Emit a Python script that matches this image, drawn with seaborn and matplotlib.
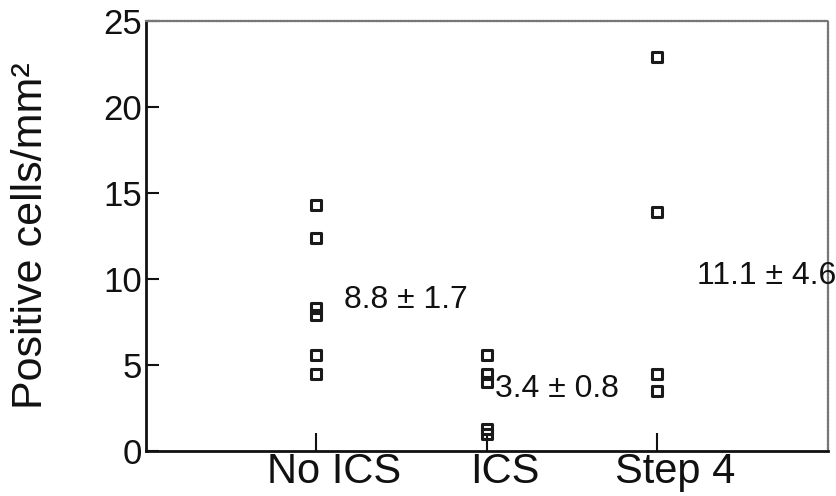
import matplotlib
matplotlib.use("Agg")
import matplotlib.pyplot as plt
import matplotlib.transforms as mtransforms
import seaborn as sns
import pandas as pd
from matplotlib import font_manager

# ---- data ----
categories = ["No ICS", "ICS", "Step 4"]
no_ics = [14.3, 12.4, 8.3, 7.9, 5.6, 4.5]
ics = [5.6, 4.5, 4.0, 1.3, 1.0]
step4 = [22.9, 13.9, 4.5, 3.5]
summary_labels = ["8.8 \u00b1 1.7", "3.4 \u00b1 0.8", "11.1 \u00b1 4.6"]
summary_y = [8.8, 3.6, 10.2]
y_ticks = [0, 5, 10, 15, 20, 25]
y_label = "Positive cells/mm\u00b2"

df = pd.DataFrame({
    "group": [categories[0]] * len(no_ics) + [categories[1]] * len(ics) + [categories[2]] * len(step4),
    "value": no_ics + ics + step4,
})

sns.set_theme(style="white")
plt.rcParams["font.family"] = ["Liberation Sans", "DejaVu Sans"]

tick_fam = ["Liberation Sans", "DejaVu Sans"]
xt_size, yt_size, ann_size = 30, 25, 23

fig = plt.figure(figsize=(8.37, 4.96), dpi=100)
ax = fig.add_axes([0.1744, 0.0907, 0.8146, 0.867])

sns.stripplot(data=df, x="group", y="value", order=categories, jitter=False,
              marker="s", s=7.2, color="#1a1a1a", facecolor="none",
              edgecolor="#1a1a1a", linewidth=2.2, ax=ax, zorder=3)

ax.set_xlim(-1, 3)
ax.set_ylim(0, 25)
ax.set_yticks(y_ticks)
ax.set_yticklabels([str(t) for t in y_ticks], family=tick_fam, fontsize=yt_size, color="#111")
ax.set_xticks(range(len(categories)))
ax.set_xticklabels(categories, family=tick_fam, fontsize=xt_size, color="#111")
ax.tick_params(axis="both", direction="in", length=10, width=1.5, color="#111",
               bottom=True, left=True, top=False, right=False)
ax.tick_params(axis="y", pad=3, length=9)
ax.tick_params(axis="x", pad=1, length=13)
shift = mtransforms.ScaledTranslation(18 / 100, 0, fig.dpi_scale_trans)
for lbl in ax.get_xticklabels():
    lbl.set_transform(lbl.get_transform() + shift)
ax.set_xlabel("")
ax.set_ylabel(y_label, fontsize=31, color="#111")
ax.yaxis.set_label_coords(-0.14, 0.5)

for side in ["left", "bottom"]:
    ax.spines[side].set_color("#111")
    ax.spines[side].set_linewidth(2.0)
for side in ["top", "right"]:
    ax.spines[side].set_color("#777")
    ax.spines[side].set_linewidth(1.6)
    ax.spines[side].set_linestyle((0, (1, 0.6)))

x_offsets = [0.16, 1.05, 2.23]
for xo, yv, lab in zip(x_offsets, summary_y, summary_labels):
    ax.text(xo, yv, lab, family=tick_fam, fontsize=ann_size, color="#111",
            ha="left", va="center", clip_on=False)

fig.savefig("out.png", dpi=100)
